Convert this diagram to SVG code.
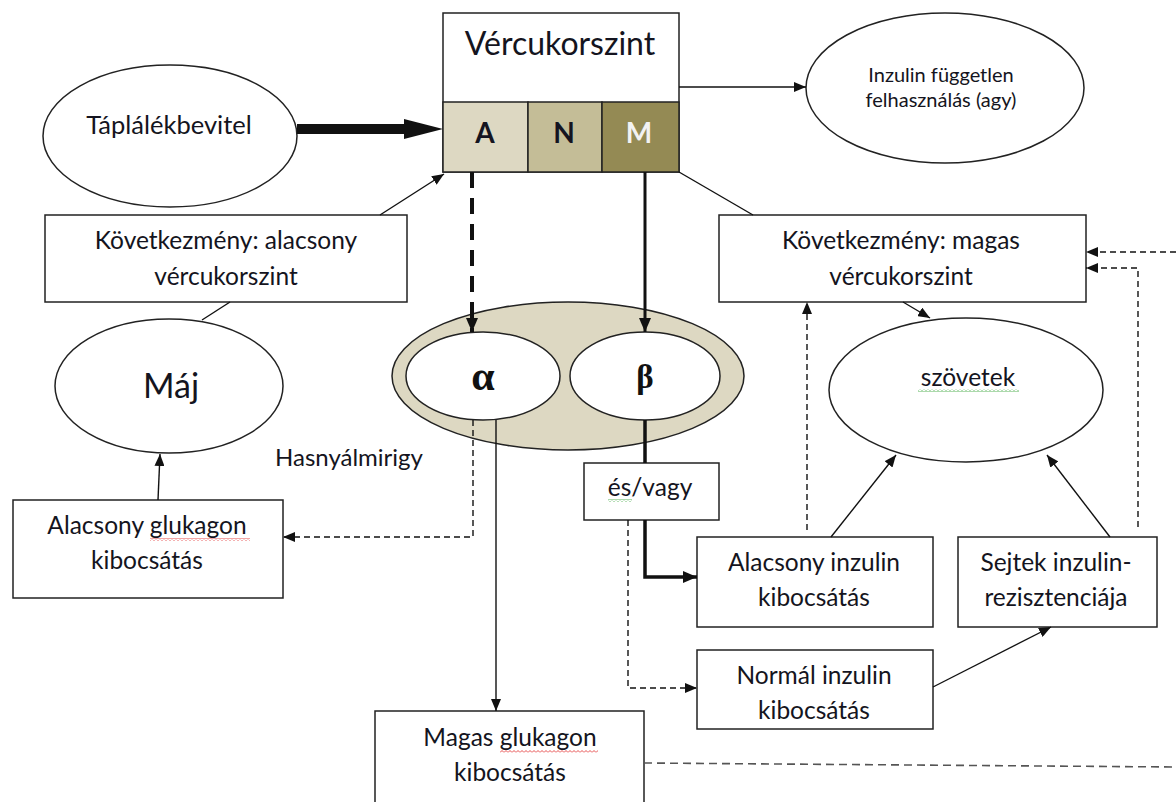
<svg xmlns="http://www.w3.org/2000/svg" width="1176" height="802" viewBox="0 0 1176 802">
<style>
.box{fill:#fff;stroke:#222;stroke-width:1.5}
.t{font-family:Lato,"Open Sans",sans-serif;font-size:24.5px;fill:#141420;text-anchor:middle}
.c{fill:none;stroke:#111;stroke-width:1.4}
.d{fill:none;stroke:#111;stroke-width:1.4;stroke-dasharray:6 4}
</style>
<defs>
<marker id="ah" markerUnits="userSpaceOnUse" markerWidth="12" markerHeight="10" refX="12" refY="5" orient="auto"><path d="M0,0 L12,5 L0,10 z" fill="#111"/></marker>
<marker id="ahb" markerUnits="userSpaceOnUse" markerWidth="14" markerHeight="12" refX="14" refY="6" orient="auto"><path d="M0,0 L14,6 L0,12 z" fill="#111"/></marker>
<pattern id="wr" width="4" height="3" patternUnits="userSpaceOnUse"><polyline points="0,2.5 2,0.5 4,2.5" fill="none" stroke="#e02020" stroke-width="0.8"/></pattern>
<pattern id="wg" width="4" height="3" patternUnits="userSpaceOnUse"><polyline points="0,2.5 2,0.5 4,2.5" fill="none" stroke="#30a030" stroke-width="0.8"/></pattern>
</defs>

<g id="vercukorszint">
<rect class="box" x="443" y="13" width="236" height="159"/>
<rect x="443" y="102" width="85" height="70" fill="#DDD8C2" stroke="#222" stroke-width="1.5"/>
<rect x="528" y="102" width="74" height="70" fill="#C4BD97" stroke="#222" stroke-width="1.5"/>
<rect x="602" y="102" width="77" height="70" fill="#948A54" stroke="#222" stroke-width="1.5"/>
<text class="t" x="560" y="55" style="font-size:32px">Vércukorszint</text>
<text class="t" x="485" y="143" style="font-size:28px;font-weight:bold">A</text>
<text class="t" x="564" y="143" style="font-size:28px;font-weight:bold">N</text>
<text class="t" x="639" y="143" style="font-size:28px;font-weight:bold;fill:#F2F2F2">M</text>
</g>

<g id="taplalekbevitel">
<ellipse class="box" cx="170" cy="136" rx="127" ry="71"/>
<text class="t" x="169" y="134" style="font-size:25.5px">Táplálékbevitel</text>
</g>

<g id="inzulin-fuggetlen">
<ellipse class="box" cx="945" cy="88" rx="139" ry="75"/>
<text class="t" x="941" y="82" style="font-size:20px">Inzulin független</text>
<text class="t" x="941" y="107" style="font-size:20px">felhasználás (agy)</text>
</g>

<g id="kov-alacsony">
<rect class="box" x="45" y="215" width="362" height="87"/>
<text class="t" x="226" y="249">Következmény: alacsony</text>
<text class="t" x="226" y="285">vércukorszint</text>
</g>

<g id="kov-magas">
<rect class="box" x="719" y="215" width="367" height="87"/>
<text class="t" x="901" y="249">Következmény: magas</text>
<text class="t" x="901" y="285">vércukorszint</text>
</g>

<g id="maj">
<ellipse class="box" cx="169" cy="386" rx="114" ry="67"/>
<text class="t" x="171" y="398" style="font-size:34px">Máj</text>
</g>

<g id="hasnyalmirigy">
<ellipse cx="568" cy="376" rx="176" ry="74" fill="#DDD8C2" stroke="#222" stroke-width="1.5"/>
<text class="t" x="275" y="466" style="font-size:24px;text-anchor:start">Hasnyálmirigy</text>
</g>

<g id="alfa">
<ellipse class="box" cx="483" cy="376" rx="77" ry="44"/>
<text x="483" y="390" style="font-family:'Liberation Serif',serif;font-size:42px;font-weight:bold;text-anchor:middle;fill:#111">α</text>
</g>

<g id="beta">
<ellipse class="box" cx="645" cy="376" rx="75" ry="44"/>
<text x="645" y="388" style="font-family:'Liberation Serif',serif;font-size:33px;font-weight:bold;text-anchor:middle;fill:#111">β</text>
</g>

<g id="szovetek">
<ellipse class="box" cx="966" cy="390" rx="137" ry="72"/>
<text class="t" x="968" y="386">szövetek</text>
<rect x="918" y="389" width="101" height="3" fill="url(#wg)"/>
</g>

<g id="alacsony-glukagon">
<rect class="box" x="13" y="500" width="270" height="98"/>
<text class="t" x="147" y="534">Alacsony glukagon</text>
<text class="t" x="147" y="569">kibocsátás</text>
<rect x="150" y="538" width="100" height="3" fill="url(#wr)"/>
</g>

<g id="es-vagy">
<rect class="box" x="584" y="463" width="135" height="57"/>
<text class="t" x="650" y="496">és/vagy</text>
<rect x="608" y="499" width="24" height="3" fill="url(#wg)"/>
</g>

<g id="alacsony-inzulin">
<rect class="box" x="697" y="537" width="236" height="90"/>
<text class="t" x="814" y="571">Alacsony inzulin</text>
<text class="t" x="814" y="606">kibocsátás</text>
</g>

<g id="sejtek">
<rect class="box" x="958" y="537" width="199" height="90"/>
<text class="t" x="1056" y="571">Sejtek inzulin-</text>
<text class="t" x="1056" y="606">rezisztenciája</text>
</g>

<g id="normal-inzulin">
<rect class="box" x="697" y="650" width="236" height="79"/>
<text class="t" x="814" y="684">Normál inzulin</text>
<text class="t" x="814" y="719">kibocsátás</text>
</g>

<g id="magas-glukagon">
<rect class="box" x="375" y="711" width="269" height="100"/>
<text class="t" x="510" y="746">Magas glukagon</text>
<text class="t" x="510" y="781">kibocsátás</text>
<rect x="500" y="750" width="98" height="3" fill="url(#wr)"/>
</g>

<g id="connectors">
<line x1="297" y1="129" x2="406" y2="129" stroke="#111" stroke-width="10"/>
<polygon points="404,119 443,129 404,139" fill="#111"/>
<line class="c" x1="679" y1="87" x2="806" y2="87" marker-end="url(#ah)"/>
<line class="c" x1="380" y1="215" x2="444" y2="174" marker-end="url(#ah)"/>
<line class="c" x1="230" y1="302" x2="202" y2="320"/>
<line class="c" x1="679" y1="172" x2="753" y2="215"/>
<line x1="472" y1="172" x2="472" y2="332" stroke="#111" stroke-width="4" stroke-dasharray="16 10" marker-end="url(#ahb)"/>
<line x1="645" y1="172" x2="645" y2="332" stroke="#111" stroke-width="3" marker-end="url(#ahb)"/>
<line x1="645" y1="420" x2="645" y2="463" stroke="#111" stroke-width="3.5"/>
<polyline points="645,520 645,577 697,577" fill="none" stroke="#111" stroke-width="3.5" marker-end="url(#ahb)"/>
<polyline class="d" points="628,520 628,688 697,688" marker-end="url(#ah)"/>
<polyline class="d" points="473,420 473,537 283,537" marker-end="url(#ah)"/>
<line class="c" x1="158" y1="500" x2="160" y2="454" marker-end="url(#ah)"/>
<line class="c" x1="496" y1="420" x2="496" y2="711" marker-end="url(#ah)"/>
<line class="c" x1="933" y1="687" x2="1051" y2="627" marker-end="url(#ah)"/>
<line class="c" x1="831" y1="537" x2="896" y2="455" marker-end="url(#ah)"/>
<line class="c" x1="1110" y1="537" x2="1047" y2="455" marker-end="url(#ah)"/>
<line class="c" x1="903" y1="302" x2="930" y2="318" marker-end="url(#ah)"/>
<line class="d" x1="807" y1="530" x2="807" y2="302" marker-end="url(#ah)"/>
<polyline class="d" points="1138,527 1138,268 1086,268" marker-end="url(#ah)"/>
<line class="d" x1="1176" y1="252" x2="1086" y2="252" marker-end="url(#ah)"/>
<line x1="644" y1="763" x2="1176" y2="767" stroke="#555" stroke-width="1.6" stroke-dasharray="8 5"/>
</g>
</svg>
